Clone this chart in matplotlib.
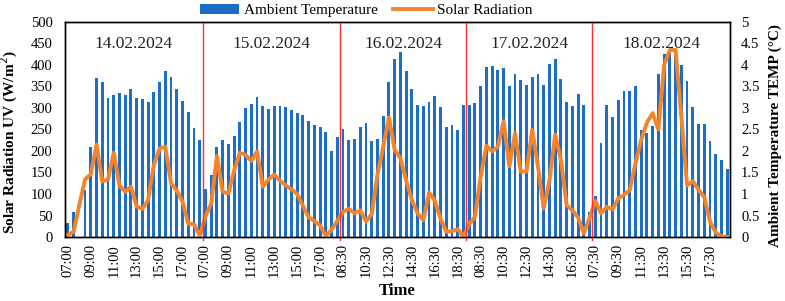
import matplotlib
matplotlib.use("Agg")
import matplotlib.pyplot as plt
import numpy as np

plt.rcParams['font.family'] = ['Liberation Serif', 'DejaVu Serif']

# Ambient temperature (degC), one reading every 30 min
day1_temp = [0.33, 0.58, 0.0, 1.09, 2.10, 3.70, 3.60, 3.24, 3.30, 3.36, 3.30, 3.43,
             3.24, 3.22, 3.15, 3.38, 3.60, 3.85, 3.72, 3.43, 3.17, 2.90, 2.53, 2.26]
day2_temp = [1.12, 1.44, 2.10, 2.26, 2.16, 2.35, 2.68, 3.01, 3.09, 3.26, 3.05, 2.98,
             3.05, 3.05, 3.03, 2.95, 2.89, 2.84, 2.70, 2.60, 2.55, 2.45, 2.00, 2.32]
day3_temp = [2.51, 2.26, 2.29, 2.56, 2.66, 2.24, 2.29, 2.82, 3.61, 4.15, 4.31, 3.86,
             3.43, 3.08, 3.05, 3.14, 3.27, 3.03, 2.56, 2.61, 2.48, 3.06]
day4_temp = [3.08, 3.11, 3.51, 3.96, 3.98, 3.88, 3.92, 3.51, 3.78, 3.64, 3.54, 3.72,
             3.80, 3.54, 4.03, 4.14, 3.67, 3.14, 3.04, 3.32, 3.06, 0.59]
day5_temp = [0.95, 2.18, 3.08, 2.80, 3.19, 3.40, 3.40, 3.51, 2.48, 2.42, 2.59, 3.78,
             4.25, 4.33, 4.30, 4.01, 3.62, 3.02, 2.63, 2.63, 2.23, 1.92, 1.78, 1.57]

# Solar radiation UV (W/m2)
day1_solar = [5, 12, 75, 134, 146, 215, 129, 134, 196, 120, 105, 117,
              71, 65, 86, 168, 206, 210, 125, 108, 82, 31, 30, 3]
day2_solar = [48, 78, 188, 105, 101, 155, 196, 191, 177, 199, 117, 134,
              145, 131, 120, 111, 100, 72, 46, 37, 27, 2, 17, 38]
day3_solar = [58, 66, 55, 62, 36, 53, 145, 210, 278, 203, 183, 132,
              86, 55, 39, 103, 84, 43, 12, 14, 18, 1]
day4_solar = [30, 47, 140, 212, 199, 210, 269, 164, 241, 152, 152, 249,
              164, 66, 132, 238, 179, 74, 62, 45, 8, 45]
day5_solar = [84, 55, 70, 64, 90, 98, 109, 172, 226, 266, 288, 250,
              400, 435, 435, 280, 120, 130, 110, 93, 36, 10, 2, 0]

dates = ['14.02.2024', '15.02.2024', '16.02.2024', '17.02.2024', '18.02.2024']
tick_labels = ['07:00', '09:00', '11:00', '13:00', '15:00', '17:00',
               '07:00', '09:00', '11:00', '13:00', '15:00', '17:00',
               '08:30', '10:30', '12:30', '14:30', '16:30', '18:30',
               '08:30', '10:30', '12:30', '14:30', '16:30',
               '07:30', '09:30', '11:30', '13:30', '15:30', '17:30']

temp = day1_temp + day2_temp + day3_temp + day4_temp + day5_temp
solar = day1_solar + day2_solar + day3_solar + day4_solar + day5_solar
x = np.arange(len(temp))

day_sizes = [len(day1_temp), len(day2_temp), len(day3_temp), len(day4_temp), len(day5_temp)]
day_starts = np.cumsum([0] + day_sizes)

fig = plt.figure(figsize=(7.85, 3.01), dpi=100)
ax = fig.add_axes([0.0828, 0.2126, 0.8472, 0.7144])
ax2 = ax.twinx()

bar_color = '#1c6dc8'
line_color = '#f5832a'

bars = ax2.bar(x, temp, width=0.5, color=bar_color, label='Ambient Temperature')
line, = ax.plot(x, solar, color=line_color, lw=2.8, label='Solar Radiation',
                solid_joinstyle='round')

ax.set_zorder(ax2.get_zorder() + 1)
ax.patch.set_visible(False)

ax.set_xlim(-0.5, len(temp) - 0.5)
ax.set_ylim(0, 500)
ax2.set_ylim(0, 5)
ax.set_yticks(np.arange(0, 501, 50))
ax2.set_yticks(np.arange(0, 5.01, 0.5))
ax2.set_yticklabels(['0', '0.5', '1', '1.5', '2', '2.5', '3', '3.5', '4', '4.5', '5'])

ax.set_xticks(x[::4])
ax.set_xticklabels(tick_labels, rotation=90, fontsize=10.5)

ax.tick_params(axis='y', length=0, pad=9, labelsize=10.5)
ax2.tick_params(axis='y', length=0, pad=8, labelsize=10.5)
ax.tick_params(axis='x', length=0, pad=5)

for sp in list(ax.spines.values()) + list(ax2.spines.values()):
    sp.set_color('black')
    sp.set_linewidth(1.0)

# day separators
for s in day_starts[1:-1]:
    ax.axvline(s - 0.5, ymin=-0.015, ymax=1, color='#ff3030', lw=1, clip_on=False)

# date titles
for i, d in enumerate(dates):
    mid = (day_starts[i] + day_starts[i + 1] - 1) / 2
    ax.text(mid, 449, d, ha='center', va='center', fontsize=12.5, color='#222222')

ax.set_ylabel('Solar Radiation UV (W/m$^{2}$)', fontsize=11, fontweight='bold')
ax.yaxis.set_label_coords(-0.068, 0.44)
ax2.set_ylabel('Ambient Temperature TEMP (°C)', fontsize=11, fontweight='bold')
ax2.yaxis.set_label_coords(1.058, 0.47)
ax.set_xlabel('Time', fontsize=12, fontweight='bold', labelpad=4)

ax.legend([bars, line], ['Ambient Temperature', 'Solar Radiation'], ncol=2,
          loc='center', bbox_to_anchor=(0.453, 1.053), frameon=False,
          fontsize=11, handlelength=2.6, columnspacing=1.0, handletextpad=0.3)

fig.savefig('out.png', dpi=100)
